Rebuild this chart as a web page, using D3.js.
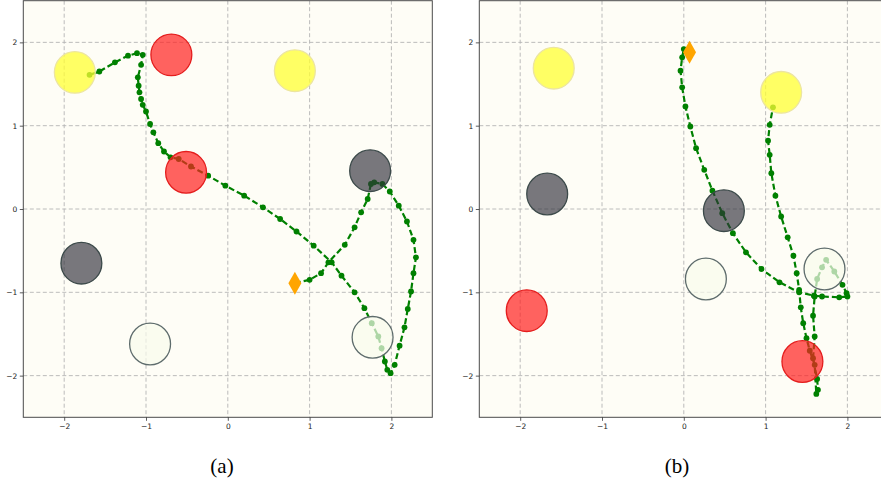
<!DOCTYPE html>
<html><head><meta charset="utf-8">
<script src="https://cdn.jsdelivr.net/npm/d3@7"></script>
<style>body{margin:0;background:#fff}svg{display:block}</style>
</head><body>
<svg id="c" width="881" height="480"></svg>
<script>
const ticks = [-2, -1, 0, 1, 2];
const panelLabels = ["(a)", "(b)"];

// panel (a)
const goalsA = [[-1.87, 1.64], [0.82, 1.66]];
const dangerA = [[-0.69, 1.85], [-0.51, 0.44]];
const blockA = [[1.74, 0.46], [-1.79, -0.65]];
const emptyA = [[-0.95, -1.62], [1.77, -1.54]];
const startA = [0.82, -0.89];
const pathA = [
  [0.82,-0.89],[1.00,-0.85],[1.14,-0.77],[1.23,-0.64],[1.43,-0.43],[1.55,-0.22],[1.63,-0.04],[1.71,0.12],
  [1.75,0.30],[1.79,0.32],[1.89,0.30],[1.98,0.21],[2.09,0.04],[2.19,-0.15],[2.27,-0.37],[2.30,-0.58],
  [2.27,-0.77],[2.24,-0.99],[2.20,-1.20],[2.16,-1.42],[2.10,-1.64],[2.04,-1.87],[1.99,-1.97],[1.95,-1.93],
  [1.92,-1.83],[1.88,-1.67],[1.84,-1.53],[1.76,-1.37],[1.67,-1.19],[1.55,-1.00],[1.39,-0.80],[1.27,-0.64],
  [1.05,-0.44],[0.84,-0.27],[0.64,-0.12],[0.43,0.02],[0.20,0.16],[-0.03,0.28],[-0.24,0.40],[-0.45,0.51],
  [-0.60,0.60],[-0.70,0.62],[-0.78,0.69],[-0.85,0.79],[-0.91,0.92],[-0.95,1.02],[-1.00,1.17],[-1.04,1.25],
  [-1.06,1.32],[-1.08,1.40],[-1.09,1.48],[-1.10,1.58],[-1.06,1.73],[-1.04,1.85],[-1.11,1.87],[-1.22,1.84],
  [-1.38,1.76],[-1.57,1.65],[-1.69,1.61]
];

// panel (b)
const goalsB = [[-1.59, 1.69], [1.19, 1.40]];
const dangerB = [[-1.92, -1.22], [1.45, -1.83]];
const blockB = [[-1.67, 0.18], [0.49, -0.02]];
const emptyB = [[0.27, -0.84], [1.72, -0.72]];
const startB = [0.07, 1.88];
const pathB = [
  [0.07,1.88],[0.00,1.92],[-0.02,1.82],[-0.04,1.66],[-0.02,1.46],[0.02,1.23],[0.08,0.99],[0.15,0.73],
  [0.25,0.47],[0.35,0.22],[0.47,-0.05],[0.60,-0.29],[0.76,-0.52],[0.95,-0.72],[1.17,-0.88],[1.41,-1.00],
  [1.59,-1.04],[1.69,-1.05],[1.90,-1.06],[2.00,-1.05],[1.99,-1.01],[1.94,-0.91],[1.84,-0.75],[1.74,-0.61],
  [1.69,-0.70],[1.63,-0.84],[1.60,-1.05],[1.58,-1.28],[1.60,-1.53],[1.58,-1.79],[1.63,-2.04],[1.64,-2.17],
  [1.62,-2.22],[1.60,-1.87],[1.54,-1.70],[1.50,-1.55],[1.46,-1.37],[1.43,-1.18],[1.41,-0.97],[1.38,-0.77],
  [1.34,-0.56],[1.27,-0.34],[1.19,-0.09],[1.12,0.16],[1.07,0.43],[1.05,0.65],[1.03,0.82],[1.05,1.01],[1.09,1.22]
];
const radius = 0.25;

const svg = d3.select("#c");
const yScale = d3.scaleLinear().domain([-2.5, 2.5]).range([417.3, 0.7]);

function panel(x0, x1, d, label, labelX) {
  const x = d3.scaleLinear().domain([-2.5, 2.5]).range([x0, x1]);
  const y = yScale;
  const clipId = "clip" + label.replace(/\W/g, "");
  svg.append("clipPath").attr("id", clipId).append("rect")
    .attr("x", x0).attr("y", y(2.5)).attr("width", x1 - x0).attr("height", y(-2.5) - y(2.5));
  svg.append("rect").attr("x", x0).attr("y", y(2.5)).attr("width", x1 - x0)
    .attr("height", y(-2.5) - y(2.5)).attr("fill", "#fefdf6");
  const g = svg.append("g").attr("clip-path", `url(#${clipId})`);
  // grid
  g.selectAll(".gx").data(ticks).join("line")
    .attr("x1", v => x(v)).attr("x2", v => x(v)).attr("y1", y(2.5)).attr("y2", y(-2.5))
    .attr("stroke", "#b4b4b4").attr("stroke-width", 0.9).attr("stroke-dasharray", "4,2.5");
  g.selectAll(".gy").data(ticks).join("line")
    .attr("y1", v => y(v)).attr("y2", v => y(v)).attr("x1", x0).attr("x2", x1)
    .attr("stroke", "#b4b4b4").attr("stroke-width", 0.9).attr("stroke-dasharray", "4,2.5");
  // path
  const line = d3.line().x(p => x(p[0])).y(p => y(p[1]));
  g.append("path").attr("d", line(d.path)).attr("fill", "none")
    .attr("stroke", "#008000").attr("stroke-width", 2.2).attr("stroke-dasharray", "6,3");
  g.selectAll(".dot").data(d.path.slice(1)).join("circle")
    .attr("cx", p => x(p[0])).attr("cy", p => y(p[1])).attr("r", 2.9).attr("fill", "#008000");
  const kx = Math.abs(x(radius) - x(0)), ky = Math.abs(y(radius) - y(0));
  function obst(arr, fill, fo, stroke) {
    g.selectAll(null).data(arr).join("ellipse")
      .attr("cx", p => x(p[0])).attr("cy", p => y(p[1])).attr("rx", kx).attr("ry", ky)
      .attr("fill", fill).attr("fill-opacity", fo).attr("stroke", stroke).attr("stroke-width", 1.3);
  }
  obst(d.goals, "#ffff33", 0.75, "#ece5a0");
  obst(d.danger, "#ff2020", 0.7, "#e41e1e");
  obst(d.block, "#30303a", 0.65, "#3c4a4a");
  obst(d.empty, "#f8fbec", 0.7, "#5e6c6c");
  // start marker (thin diamond)
  const sx = x(d.start[0]), sy = y(d.start[1]);
  g.append("path").attr("d", `M${sx},${sy - 11.5}L${sx + 6.5},${sy}L${sx},${sy + 11.5}L${sx - 6.5},${sy}Z`)
    .attr("fill", "#ffa500");
  // frame
  svg.append("rect").attr("x", x0).attr("y", y(2.5)).attr("width", x1 - x0)
    .attr("height", y(-2.5) - y(2.5)).attr("fill", "none").attr("stroke", "#4a4a4a").attr("stroke-width", 1);
  // axes
  const ax = svg.append("g").attr("transform", `translate(0,${y(-2.5)})`)
    .call(d3.axisBottom(x).tickValues(ticks).tickSize(3.5).tickPadding(2.5).tickFormat(d3.format("d")));
  const ay = svg.append("g").attr("transform", `translate(${x0},0)`)
    .call(d3.axisLeft(y).tickValues(ticks).tickSize(3.5).tickPadding(2.5).tickFormat(d3.format("d")));
  [ax, ay].forEach(a => {
    a.select(".domain").remove();
    a.selectAll("line").attr("stroke", "#333").attr("stroke-width", 0.8);
    a.selectAll("text").attr("font-family", "DejaVu Sans").attr("font-size", 7.5).attr("fill", "#222");
  });
  svg.append("text").attr("x", labelX).attr("y", 473).attr("text-anchor", "middle")
    .attr("font-family", "Liberation Serif").attr("font-size", 21).attr("fill", "#000").text(label);
}

panel(23.3, 432.3, {goals: goalsA, danger: dangerA, block: blockA, empty: emptyA, start: startA, path: pathA}, panelLabels[0], 222);
panel(479.3, 888.3, {goals: goalsB, danger: dangerB, block: blockB, empty: emptyB, start: startB, path: pathB}, panelLabels[1], 677);
</script>
</body></html>
